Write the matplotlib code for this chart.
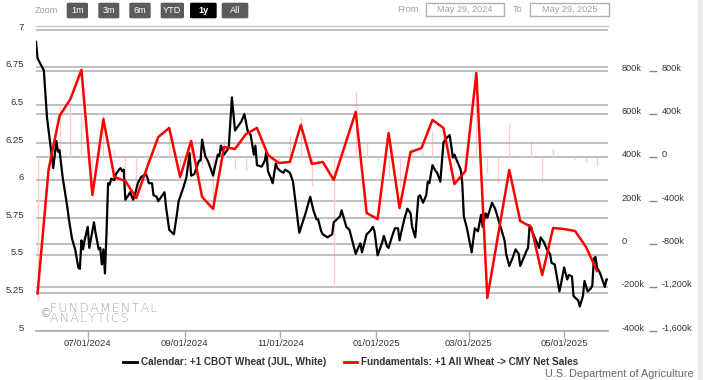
import pandas as pd
import matplotlib
matplotlib.use("Agg")
import matplotlib.pyplot as plt
import matplotlib.dates as mdates
from matplotlib.patches import FancyBboxPatch, Rectangle
from matplotlib.lines import Line2D
from matplotlib.ticker import FixedLocator

plt.rcParams['font.family'] = ['Liberation Sans', 'DejaVu Sans']

W, H = 703, 380

# DATA
START = pd.Timestamp('2024-05-29')
END = pd.Timestamp('2025-05-29')

# CBOT wheat (JUL), days after START and price
wheat_day = [0, 1, 5, 7, 9, 11, 13, 14, 15, 17, 20, 21, 23, 25, 27, 28, 29, 30, 31, 33,
             34, 37, 38, 40, 41, 42, 43, 44, 45, 46, 47, 48, 50, 51, 53, 54, 55, 56, 57, 59,
             60, 62, 63, 65, 67, 70, 71, 72, 74, 75, 77, 78, 80, 82, 83, 85, 87, 88, 90, 91,
             94, 96, 98, 99, 101, 104, 105, 106, 108, 110, 113, 114, 116, 117, 118, 120, 122, 123, 125, 127,
             129, 131, 133, 135, 137, 139, 140, 141, 144, 146, 147, 148, 150, 151, 153, 154, 156, 158, 159, 162,
             164, 166, 168, 172, 175, 177, 179, 180, 182, 183, 186, 189, 190, 192, 194, 195, 198, 200, 202, 204,
             206, 207, 208, 211, 213, 215, 216, 218, 221, 222, 224, 225, 227, 229, 231, 232, 233, 235, 237, 239,
             240, 242, 244, 245, 247, 249, 250, 251, 253, 255, 256, 258, 260, 262, 264, 266, 267, 269, 271, 272,
             273, 275, 278, 280, 282, 284, 285, 287, 288, 291, 293, 295, 297, 299, 300, 302, 304, 306, 308, 309,
             311, 313, 314, 315, 317, 319, 321, 322, 324, 326, 328, 329, 331, 332, 334, 335, 337, 339, 340, 342,
             343, 346, 347, 349, 350, 352, 354, 355, 356, 357, 358, 360, 363, 364, 365]
wheat_px = [6.92, 6.81, 6.73, 6.42, 6.25, 6.08, 6.26, 6.19, 6.20, 6.02, 5.82, 5.74, 5.61, 5.54, 5.42, 5.41, 5.60, 5.54, 5.60, 5.69,
            5.55, 5.72, 5.65, 5.54, 5.55, 5.44, 5.54, 5.38, 5.65, 5.98, 5.97, 6.01, 6.00, 6.04, 6.07, 6.08, 6.06, 6.07, 5.87, 5.90,
            5.92, 5.87, 5.90, 5.98, 6.02, 6.04, 6.02, 5.98, 5.98, 5.90, 5.89, 5.86, 5.89, 5.92, 5.82, 5.67, 5.65, 5.64, 5.78, 5.86,
            5.95, 6.02, 6.18, 6.03, 6.04, 6.13, 6.13, 6.27, 6.16, 6.12, 6.03, 6.08, 6.17, 6.16, 6.23, 6.17, 6.20, 6.22, 6.55, 6.33,
            6.36, 6.39, 6.44, 6.33, 6.30, 6.17, 6.23, 6.10, 6.09, 6.13, 6.19, 6.06, 6.01, 5.98, 6.11, 6.08, 6.06, 6.05, 6.07, 6.05,
            5.99, 5.82, 5.65, 5.78, 5.89, 5.80, 5.74, 5.74, 5.66, 5.64, 5.62, 5.64, 5.72, 5.74, 5.76, 5.80, 5.69, 5.67, 5.59, 5.51,
            5.56, 5.58, 5.52, 5.64, 5.66, 5.69, 5.66, 5.50, 5.59, 5.63, 5.56, 5.55, 5.62, 5.68, 5.68, 5.60, 5.65, 5.74, 5.81, 5.78,
            5.69, 5.62, 5.89, 5.90, 5.85, 5.90, 5.99, 5.98, 6.10, 6.06, 6.05, 5.99, 6.25, 6.28, 6.30, 6.15, 6.17, 6.12, 6.07, 5.98,
            5.76, 5.68, 5.52, 5.68, 5.66, 5.77, 5.69, 5.78, 5.75, 5.85, 5.81, 5.74, 5.67, 5.60, 5.51, 5.43, 5.48, 5.54, 5.51, 5.43,
            5.48, 5.53, 5.55, 5.70, 5.65, 5.60, 5.55, 5.62, 5.59, 5.54, 5.51, 5.45, 5.44, 5.38, 5.26, 5.31, 5.42, 5.34, 5.37, 5.36,
            5.23, 5.20, 5.16, 5.23, 5.33, 5.26, 5.28, 5.30, 5.48, 5.49, 5.42, 5.38, 5.29, 5.34, 5.34]

# weekly export sales (Thursdays), thousands; None = no report that week
sales_dates = pd.date_range('2024-05-30', '2025-05-22', freq='7D')
net_sales = [-228, 342, 591, 670, 804, 226, 577, 309, 291, 212, 356, 494, 536, 309, 476, 217, 162, 448, 439, 508,
             536, 411, 374, 379, 550, 370, 379, 296, None, 610, 143, 115, 513, 166, 425, 443, 573, 536, 277, 337,
             790, -249, None, 342, 106, 79, -143, 74, 69, 60, -14, -125]
sales_bar = [-1330, 60, 470, 500, 390, -270, 390, 70, -150, -330, -170, 70, 180, -100, 160, -100, -390, 160, -110, -120,
             30, -160, -40, 200, 375, -260, 20, -1195, 50, 606, 135, -20, -180, -270, 90, 50, 240, 190, -60, 40,
             480, -140, -240, 310, 20, 160, -230, 80, 15, -25, -40, -80]

x_ticks = ['2024-07-01', '2024-09-01', '2024-11-01', '2025-01-01', '2025-03-01', '2025-05-01']
left_ticks = [5, 5.25, 5.5, 5.75, 6, 6.25, 6.5, 6.75, 7]
left_labels = ['5', '5.25', '5.5', '5.75', '6', '6.25', '6.5', '6.75', '7']
r1_ticks = [-400, -200, 0, 200, 400, 600, 800]
r1_labels = ['-400k', '-200k', '0', '200k', '400k', '600k', '800k']
r2_ticks = [-1600, -1200, -800, -400, 0, 400, 800]
r2_labels = ['-1,600k', '-1,200k', '-800k', '-400k', '0', '400k', '800k']

label1 = 'Calendar: +1 CBOT Wheat (JUL, White)'
label2 = 'Fundamentals: +1 All Wheat -> CMY Net Sales'

# PLOT
fig = plt.figure(figsize=(W / 100, H / 100), dpi=100)
ax = fig.add_axes([36 / W, 1 - 330.6 / H, 572 / W, 304.6 / H])
axb = ax.twinx()   # bars, outer right axis
axr = ax.twinx()   # red line, inner right axis
axb.set_zorder(0)
ax.set_zorder(1)
axr.set_zorder(2)
ax.patch.set_visible(False)

wd = [START + pd.Timedelta(days=d) for d in wheat_day]
ax.plot(wd, wheat_px, color='black', lw=1.6, zorder=3)

axb.vlines(sales_dates, 0, sales_bar, color='#ffcccc', lw=1.0)

s = pd.Series(net_sales, index=sales_dates, dtype=float).dropna()
axr.plot(s.index, s.values, color='red', lw=1.8)

ax.set_xlim(START, END)
ax.set_ylim(5, 7.025)
axr.set_ylim(-400, 1007)
axb.set_ylim(-1600, 1214)

ax.set_yticks(left_ticks, left_labels)
axr.set_yticks(r1_ticks, r1_labels)
axb.set_yticks(r2_ticks, r2_labels)

ax.xaxis.set_major_locator(FixedLocator(mdates.date2num(pd.to_datetime(x_ticks))))
ax.xaxis.set_major_formatter(mdates.DateFormatter('%m/%d/%Y'))

grid_c = '#adadad'
ax.yaxis.grid(True, color=grid_c, lw=1.1)
axb.yaxis.grid(True, color=grid_c, lw=1.1)

for a in (ax, axb, axr):
    for sp in a.spines.values():
        sp.set_visible(False)
ax.spines['bottom'].set_visible(True)
ax.spines['bottom'].set_color(grid_c)
ax.spines['bottom'].set_linewidth(1.2)
ax.spines['top'].set_visible(True)
ax.spines['top'].set_color('#c8c8c8')
ax.spines['top'].set_linewidth(1.0)
axb.spines['right'].set_position(('outward', 29.5))

ax.tick_params(axis='y', length=0, pad=8.6, labelsize=6.8, labelcolor='#333333')
ax.tick_params(axis='x', length=5, width=1, color=grid_c, pad=0.8, labelsize=6.8, labelcolor='#333333')
axr.tick_params(axis='y', length=0, pad=9.9, labelsize=6.6, labelcolor='#333333')
axb.tick_params(axis='y', length=5.8, width=1, color='#888888', pad=3.4, labelsize=6.6,
                labelcolor='#333333', direction='out')
for a in (ax, axr, axb):
    plt.setp(a.get_yticklabels(), va='baseline')

# watermark
fig.text(39 / W, 1 - 317 / H, '\u00a9', color='#a5a5a5', fontsize=8.5, family='DejaVu Sans')
fig.text(50 / W, 1 - 322.5 / H, '\u200a'.join('FUNDAMENTAL') + '\n' + '\u200a'.join('ANALYTICS'),
         color='#a5a5a5', fontsize=9, family='DejaVu Sans', fontweight='light',
         va='baseline', linespacing=0.9)

# range selector bar
fig.text(35 / W, 1 - 10.5 / H, 'Zoom', color='#a0a0a0', fontsize=6.6, va='center')
buttons = [('1m', 66.7, 88), ('3m', 98.3, 119.3), ('6m', 129.3, 150.7), ('YTD', 160.7, 184),
           ('1y', 190, 216.7), ('All', 221.7, 248.3)]
for txt, x0, x1 in buttons:
    fc = '#000000' if txt == '1y' else '#5b5b5b'
    fig.add_artist(FancyBboxPatch((x0 / W, 1 - 18.3 / H), (x1 - x0) / W, 15.6 / H,
                                  boxstyle='round,pad=0,rounding_size=0.003',
                                  transform=fig.transFigure, fc=fc, ec='none'))
    fig.text((x0 + x1) / 2 / W, 1 - 10.5 / H, txt, color='white', fontsize=6.6,
             fontweight='bold' if txt == '1y' else 'normal', ha='center', va='center')

fig.text(407.5 / W, 1 - 9 / H, 'From', color='#a0a0a0', fontsize=6.6, ha='center', va='center')
fig.text(518 / W, 1 - 9 / H, 'To', color='#a0a0a0', fontsize=6.6, ha='center', va='center')
for txt, x0, x1 in [('May 29, 2024', 426, 504.3), ('May 29, 2025', 530, 609)]:
    fig.add_artist(Rectangle((x0 / W, 1 - 15.5 / H), (x1 - x0) / W, 13 / H,
                             transform=fig.transFigure, fc='white', ec='#b0b0b0', lw=1))
    fig.text((x0 + x1) / 2 / W, 1 - 9 / H, txt, color='#a0a0a0', fontsize=6.6,
             ha='center', va='center')

fig.add_artist(Rectangle((698 / W, 0), 5 / W, 1, transform=fig.transFigure,
                         fc='#ececec', ec='none'))

# legend
handles = [Line2D([], [], color='black', lw=2), Line2D([], [], color='red', lw=2)]
fig.legend(handles, [label1, label2], loc='center', bbox_to_anchor=(351 / W, 1 - 362 / H),
           ncol=2, frameon=False, prop=dict(weight='bold', size=7.2), labelcolor='#333333',
           handlelength=1.34, handletextpad=0.4, columnspacing=1.8)

fig.text(694 / W, 1 - 374 / H, 'U.S. Department of Agriculture', color='#666666',
         fontsize=7.8, ha='right', va='center')

fig.savefig('out.png', dpi=100)
